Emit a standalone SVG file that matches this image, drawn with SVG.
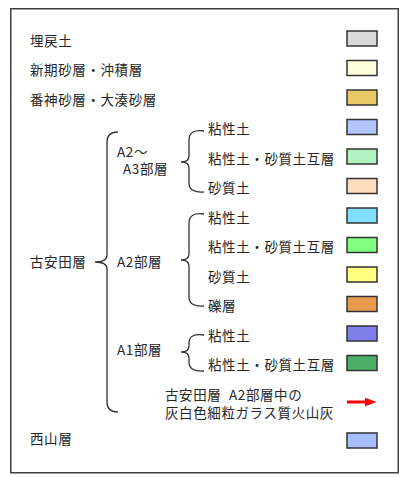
<svg xmlns="http://www.w3.org/2000/svg" width="403" height="477" viewBox="0 0 403 477">
<defs>
<style>
text{font-family:"Noto Sans CJK JP","Noto Sans",sans-serif;font-size:13.5px;letter-spacing:0.6px;fill:#262626}
.sw{stroke:#333;stroke-width:1.5}
.br{fill:none;stroke:#333;stroke-width:1.3}
</style>
<marker id="ah" markerWidth="4" markerHeight="3" refX="0.5" refY="1.5" orient="auto" markerUnits="strokeWidth">
<path d="M0,0 L4,1.5 L0,3 Z" fill="#ff0000"/>
</marker>
</defs>
<rect width="403" height="477" fill="#fff"/>
<rect x="10.75" y="8.75" width="387.5" height="464" fill="#fff" stroke="#404040" stroke-width="1.5"/>

<g id="umemodoshi"><text x="30" y="45.5">埋戻土</text><rect class="sw" x="347" y="31" width="30" height="15" fill="#d9d9d9"/></g>
<g id="shinki"><text x="30" y="75">新期砂層・沖積層</text><rect class="sw" x="347" y="60.5" width="30" height="15" fill="#ffffdf"/></g>
<g id="banjin"><text x="30" y="104.5">番神砂層・大湊砂層</text><rect class="sw" x="347" y="90" width="30" height="15" fill="#e9c963"/></g>

<g id="koyasuda"><text x="30" y="267">古安田層</text></g>
<g id="a23"><text x="117" y="156.5">A2～</text><text x="123" y="173.5">A3部層</text></g>
<g id="a2"><text x="117" y="267">A2部層</text></g>
<g id="a1"><text x="117" y="355">A1部層</text></g>

<g id="a23-clay"><text x="208" y="134">粘性土</text><rect class="sw" x="347" y="119.5" width="30" height="15" fill="#b3c6ff"/></g>
<g id="a23-alt"><text x="208" y="163.5">粘性土・砂質土互層</text><rect class="sw" x="347" y="149" width="30" height="15" fill="#b2f2c0"/></g>
<g id="a23-sand"><text x="208" y="193">砂質土</text><rect class="sw" x="347" y="178.5" width="30" height="15" fill="#fedcbe"/></g>

<g id="a2-clay"><text x="208" y="222.5">粘性土</text><rect class="sw" x="347" y="208" width="30" height="15" fill="#80dfff"/></g>
<g id="a2-alt"><text x="208" y="252">粘性土・砂質土互層</text><rect class="sw" x="347" y="237.5" width="30" height="15" fill="#80ff80"/></g>
<g id="a2-sand"><text x="208" y="281.5">砂質土</text><rect class="sw" x="347" y="267" width="30" height="15" fill="#ffff80"/></g>
<g id="a2-gravel"><text x="208" y="311">礫層</text><rect class="sw" x="347" y="296.5" width="30" height="15" fill="#e99b4f"/></g>

<g id="a1-clay"><text x="208" y="340.5">粘性土</text><rect class="sw" x="347" y="326" width="30" height="15" fill="#7f7fea"/></g>
<g id="a1-alt"><text x="208" y="370">粘性土・砂質土互層</text><rect class="sw" x="347" y="355.5" width="30" height="15" fill="#4caf68"/></g>

<g id="ash"><text x="165" y="400" word-spacing="4">古安田層 A2部層中の</text><text x="165" y="418">灰白色細粒ガラス質火山灰</text>
<line x1="347" y1="402" x2="366" y2="402" stroke="#ff0000" stroke-width="3" marker-end="url(#ah)"/></g>

<g id="nishiyama"><text x="30" y="444">西山層</text><rect class="sw" x="347" y="433" width="30" height="15" fill="#a8bfff"/></g>

<g id="connectors">
<path class="br" d="M118,132 Q107,132 107,142 L107,255 Q107,262 95,262 Q107,262 107,269 L107,402 Q107,412 118,412"/>
<path class="br" d="M204,131 Q189,129 189,140 L189,156 Q189,162 181,162 Q189,162 189,168 L189,183 Q189,193 204,192"/>
<path class="br" d="M204,214 Q189,212 189,223 L189,254 Q189,260 181,260 Q189,260 189,266 L189,297 Q189,307 204,306"/>
<path class="br" d="M204,335 Q189,333 189,343 L189,346 Q189,352 181,352 Q189,352 189,358 L189,362 Q189,372 204,371"/>
</g>
</svg>
